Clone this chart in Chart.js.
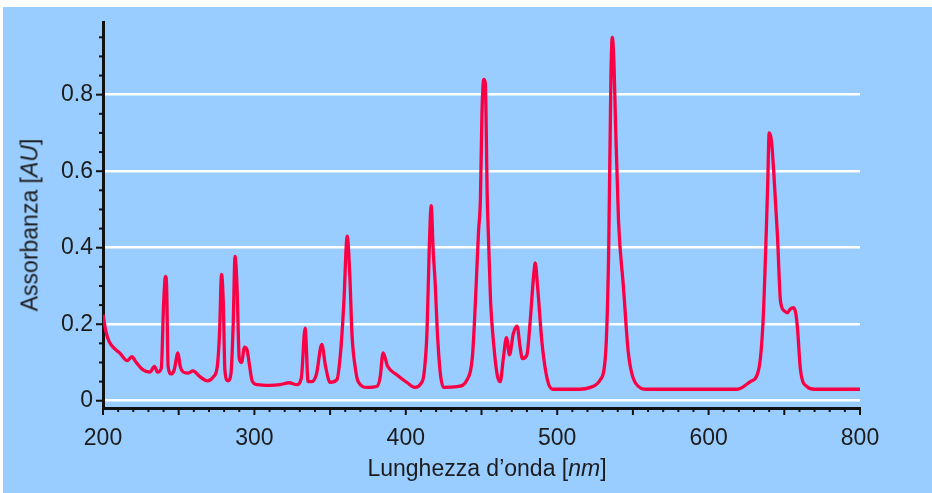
<!DOCTYPE html>
<html>
<head>
<meta charset="utf-8">
<script src="https://cdn.jsdelivr.net/npm/chart.js@4.4.1/dist/chart.umd.min.js"></script>
<style>
  body { margin: 0; background: #fff; }
  #box {
    position: absolute; left: 3px; top: 7px; width: 929px; height: 486px;
    background: #99ccff; font-family: 'Liberation Sans', Arial, sans-serif; color: #1c1c1c;
  }
  #chart { position: absolute; left: 0; top: 0; }
  .title { position: absolute; font-size: 23px; white-space: nowrap; }
  #xtitle { left: 484px; top: 461px; transform: translate(-50%, -50%); }
  #ytitle { left: 27px; top: 218px; transform: translate(-50%, -50%) rotate(-90deg); }
</style>
</head>
<body>
<div id="box">
  <canvas id="chart" width="929" height="486"></canvas>
  <div class="title" id="xtitle">Lunghezza d’onda [<i>nm</i>]</div>
  <div class="title" id="ytitle">Assorbanza [<i>AU</i>]</div>
</div>
<script>
const wavelength = [
  200, 202, 204, 208, 211, 216, 219, 222, 226, 231, 234, 236, 238.5, 240, 241.3, 242, 243, 245, 247, 249.5,
  251, 253, 256, 259.5, 264, 269, 273, 275.5, 277, 278.3, 279.5, 280.5, 282.5, 284.5, 286, 287.2, 288.5, 290,
  291.5, 293.5, 295, 296.5, 298.5, 302, 310, 317, 323, 328, 331, 333.5, 335.5, 338, 341, 344.5, 347, 350,
  354.5, 357, 359, 361.3, 363, 364.5, 366.5, 368.5, 374.5, 381, 383, 385, 388, 394, 401, 406, 410, 412,
  414, 415.5, 416.8, 418, 419.5, 420.7, 422.7, 425, 434, 440.5, 444, 446, 448, 449.3, 450.3, 451.5, 452.5,
  453.8, 454.5, 456, 458, 460.5, 462.4, 464.4, 466.5, 468.5, 471, 473.5, 475.5, 477, 480, 482, 484.5, 485.5,
  487, 490, 493.5, 497, 515, 522, 528.5, 532, 534, 535.5, 536.4, 537.5, 538.5, 540.5, 543.7, 547, 551.6,
  559.5, 600, 619, 627.6, 633, 636, 639, 640, 641.5, 643, 645.5, 647.5, 650, 652, 654, 656, 657.5, 658.7,
  660.7, 665, 670, 700
];
const absorbance = [
  0.225, 0.18, 0.155, 0.135, 0.125, 0.105, 0.115, 0.10, 0.082, 0.075, 0.09, 0.075, 0.085, 0.25, 0.325, 0.30, 0.09, 0.07, 0.08, 0.125,
  0.09, 0.075, 0.072, 0.078, 0.063, 0.052, 0.063, 0.09, 0.18, 0.33, 0.25, 0.08, 0.052, 0.07, 0.2, 0.377, 0.3, 0.11,
  0.10, 0.14, 0.135, 0.10, 0.052, 0.042, 0.04, 0.042, 0.047, 0.042, 0.06, 0.19, 0.05, 0.05, 0.07, 0.147, 0.09, 0.048,
  0.055, 0.13, 0.25, 0.43, 0.33, 0.17, 0.09, 0.05, 0.035, 0.038, 0.06, 0.125, 0.09, 0.068, 0.047, 0.035, 0.045, 0.07,
  0.18, 0.40, 0.51, 0.40, 0.30, 0.19, 0.075, 0.035, 0.037, 0.055, 0.115, 0.26, 0.44, 0.53, 0.75, 0.84, 0.83,
  0.53, 0.44, 0.26, 0.15, 0.065, 0.05, 0.11, 0.165, 0.12, 0.175, 0.195, 0.14, 0.11, 0.12, 0.2, 0.33, 0.36,
  0.30, 0.15, 0.055, 0.03, 0.03, 0.035, 0.055, 0.125, 0.39, 0.85, 0.95, 0.88, 0.73, 0.47, 0.30, 0.125, 0.047,
  0.03, 0.03, 0.03, 0.05, 0.08, 0.21, 0.56, 0.70, 0.68, 0.60, 0.43, 0.26, 0.235, 0.23, 0.24, 0.243, 0.23, 0.19,
  0.08, 0.037, 0.03, 0.03
];

// tick labels as printed on the original figure (last one reads 800)
const xTickValues = [200, 300, 400, 500, 600, 700];
const xTickLabels = ['200', '300', '400', '500', '600', '800'];
const yTickValues = [0, 0.2, 0.4, 0.6, 0.8];
const yTickLabels = ['0', '0.2', '0.4', '0.6', '0.8'];

function findLabel(values, labels, v) {
  for (let i = 0; i < values.length; i++) {
    if (Math.abs(values[i] - v) < 1e-6) return labels[i];
  }
  return '';
}

function isMajor(scale, v) {
  if (scale.axis === 'x') return Math.abs(v / 50 - Math.round(v / 50)) < 1e-6;
  return findLabel(yTickValues, yTickLabels, v) !== '';
}

// tick marks: long on labelled / 50nm values, short on the rest
const tickMarks = {
  id: 'tickMarks',
  afterDraw(chart) {
    const ctx = chart.ctx;
    const area = chart.chartArea;
    ctx.save();
    ctx.strokeStyle = '#111';
    ctx.lineWidth = 2;
    ['x', 'y'].forEach(function (id) {
      let scale = chart.scales[id];
      scale.ticks.forEach(function (tick, i) {
        let p = scale.getPixelForTick(i);
        let len = isMajor(scale, tick.value) ? 7 : 4;
        ctx.beginPath();
        if (id === 'x') {
          ctx.moveTo(p, area.bottom);
          ctx.lineTo(p, area.bottom + len);
        } else {
          ctx.moveTo(area.left, p);
          ctx.lineTo(area.left - len, p);
        }
        ctx.stroke();
      });
    });
    ctx.restore();
  }
};

const points = wavelength.map(function (w, i) {
  return { x: w, y: absorbance[i] };
});

const font = { family: "'Liberation Sans', Arial, sans-serif", size: 23 };

new Chart(document.getElementById('chart'), {
  type: 'line',
  data: {
    datasets: [{
      data: points,
      borderColor: '#fa0044',
      borderWidth: 3.3,
      pointRadius: 0,
      cubicInterpolationMode: 'monotone',
      borderJoinStyle: 'round'
    }]
  },
  options: {
    responsive: false,
    animation: false,
    devicePixelRatio: 1,
    layout: { padding: { left: 0, top: 15, right: 72, bottom: 0 } },
    plugins: { legend: { display: false }, tooltip: { enabled: false } },
    scales: {
      x: {
        type: 'linear',
        min: 200,
        max: 700,
        afterFit: function (scale) {
          scale.height = 85;
          scale.paddingLeft = 0;
          scale.paddingRight = 0;
        },
        border: { color: '#111', width: 3 },
        grid: { drawOnChartArea: false, drawTicks: false },
        ticks: {
          stepSize: 10,
          autoSkip: false,
          maxRotation: 0,
          padding: 17,
          color: '#1c1c1c',
          font: font,
          callback: function (v) { return findLabel(xTickValues, xTickLabels, v); }
        }
      },
      y: {
        min: -0.019,
        max: 0.99,
        afterFit: function (scale) {
          scale.width = 100;
          scale.paddingTop = 0;
          scale.paddingBottom = 0;
        },
        border: { color: '#111', width: 3 },
        grid: {
          drawTicks: false,
          lineWidth: 2.5,
          color: function (c) {
            return c.tick && isMajor(c.chart.scales.y, c.tick.value) ? '#ffffff' : 'rgba(0,0,0,0)';
          }
        },
        ticks: {
          stepSize: 0.05,
          includeBounds: false,
          autoSkip: false,
          padding: 10,
          color: '#1c1c1c',
          font: font,
          callback: function (v) { return findLabel(yTickValues, yTickLabels, v); }
        }
      }
    }
  },
  plugins: [tickMarks]
});
</script>
</body>
</html>
